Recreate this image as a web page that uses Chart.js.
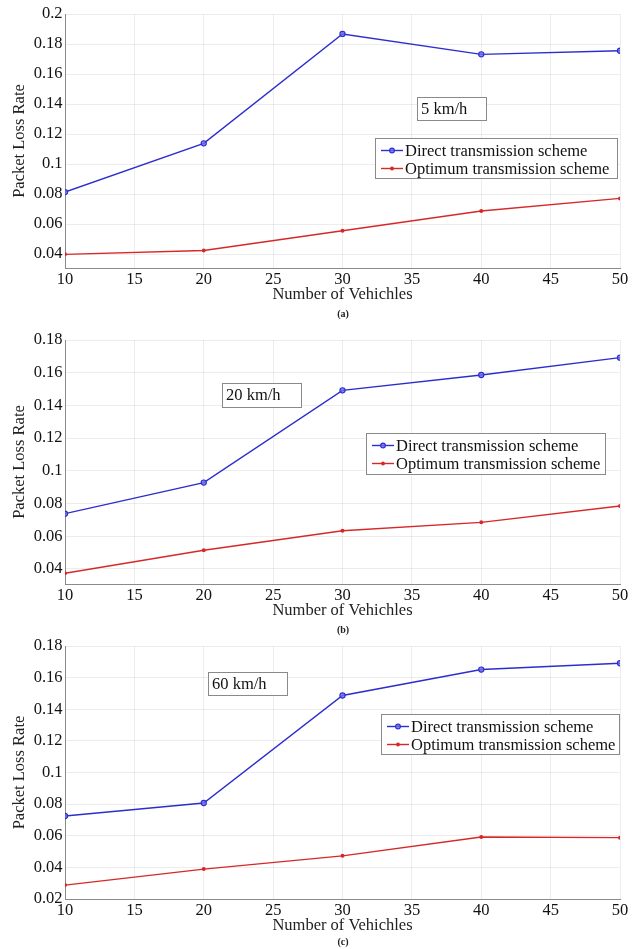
<!DOCTYPE html>
<html>
<head>
<meta charset="utf-8">
<script src="https://cdn.jsdelivr.net/npm/chart.js@4/dist/chart.umd.min.js"></script>
<style>
  body { margin: 0; background: #fff; }
  #wrap { position: relative; width: 644px; height: 949px; overflow: hidden; }
  canvas { position: absolute; left: 0; }
  .cap { position: absolute; width: 40px; text-align: center; font: bold 10px "Liberation Serif", serif; color: #222; }
</style>
</head>
<body>
<div id="wrap">
  <canvas id="chartA" width="644" height="320" style="top:0px"></canvas>
  <canvas id="chartB" width="644" height="310" style="top:320px"></canvas>
  <canvas id="chartC" width="644" height="319" style="top:630px"></canvas>
  <div class="cap" style="left:323px; top:308px">(a)</div>
  <div class="cap" style="left:323px; top:624px">(b)</div>
  <div class="cap" style="left:323px; top:936px">(c)</div>
</div>
<script>
// data
var vehicles = [10, 20, 30, 40, 50];
var xTicks = [10, 15, 20, 25, 30, 35, 40, 45, 50];

var directA  = [0.0813, 0.1138, 0.1867, 0.1731, 0.1755];
var optimumA = [0.0398, 0.0424, 0.0555, 0.0687, 0.0771];
var yTicksA  = [0.04, 0.06, 0.08, 0.1, 0.12, 0.14, 0.16, 0.18, 0.2];

var directB  = [0.0738, 0.0928, 0.1492, 0.1586, 0.1692];
var optimumB = [0.0374, 0.0514, 0.0634, 0.0685, 0.0785];
var yTicksB  = [0.04, 0.06, 0.08, 0.1, 0.12, 0.14, 0.16, 0.18];

var directC  = [0.0725, 0.0807, 0.1487, 0.1651, 0.1691];
var optimumC = [0.0288, 0.0389, 0.0473, 0.0592, 0.0588];
var yTicksC  = [0.02, 0.04, 0.06, 0.08, 0.1, 0.12, 0.14, 0.16, 0.18];

var seriesNames = ["Direct transmission scheme", "Optimum transmission scheme"];
var speeds = ["5 km/h", "20 km/h", "60 km/h"];

var FONT = '"Liberation Serif", "Times New Roman", serif';
var BLUE = "rgb(45,45,205)";
var RED = "rgb(215,40,40)";
var AXIS = "#8a8a8a";
var GRID = "rgba(0,0,0,0.07)";

function toXY(ys){
	var pts = [];
	for (var i = 0; i < vehicles.length; i++) {
		pts.push({x: vehicles[i], y: ys[i]});
	}
	return pts;
}

// legend box and speed label drawn on top of the plot
function overlay(p){
	return {
		id: "overlay",
		afterDraw: function(chart){
			var ctx = chart.ctx;
			ctx.save();
			ctx.font = "16.5px " + FONT;
			ctx.textBaseline = "middle";
			ctx.lineWidth = 1;

			// speed box
			var s = p.speedBox;
			ctx.fillStyle = "#fff";
			ctx.fillRect(s[0], s[1], s[2], s[3]);
			ctx.strokeStyle = AXIS;
			ctx.strokeRect(s[0] + 0.5, s[1] + 0.5, s[2], s[3]);
			ctx.fillStyle = "#111";
			ctx.fillText(p.speed, s[0] + 4, s[1] + s[3] / 2 + 1);

			// legend
			var b = p.legendBox;
			ctx.fillStyle = "#fff";
			ctx.fillRect(b[0], b[1], b[2], b[3]);
			ctx.strokeStyle = AXIS;
			ctx.strokeRect(b[0] + 0.5, b[1] + 0.5, b[2], b[3]);
			var cols = [BLUE, RED];
			for (var k = 0; k < 2; k++) {
				var yy = b[1] + 12.5 + k * 18;
				ctx.strokeStyle = cols[k];
				ctx.lineWidth = 1.4;
				ctx.beginPath();
				ctx.moveTo(b[0] + 6, yy);
				ctx.lineTo(b[0] + 28, yy);
				ctx.stroke();
				ctx.beginPath();
				if (k == 0) {
					ctx.arc(b[0] + 17, yy, 2.4, 0, Math.PI * 2);
					ctx.fillStyle = "rgba(110,110,235,0.8)";
					ctx.fill();
					ctx.lineWidth = 1.1;
					ctx.stroke();
				} else {
					ctx.arc(b[0] + 17, yy, 1.9, 0, Math.PI * 2);
					ctx.fillStyle = RED;
					ctx.fill();
				}
				ctx.fillStyle = "#111";
				ctx.fillText(seriesNames[k], b[0] + 30, yy + 1);
			}
			ctx.restore();
		}
	};
}

function makePanel(p){
	var canvas = document.getElementById(p.id);
	return new Chart(canvas, {
		type: "line",
		data: {
			datasets: [{
				label: seriesNames[0],
				data: toXY(p.direct),
				borderColor: BLUE,
				borderWidth: 1.4,
				pointRadius: 2.6,
				pointBorderWidth: 1.1,
				pointBackgroundColor: "rgba(110,110,235,0.8)",
				pointBorderColor: BLUE,
				tension: 0
			}, {
				label: seriesNames[1],
				data: toXY(p.optimum),
				borderColor: RED,
				borderWidth: 1.4,
				pointRadius: 2,
				pointBorderWidth: 0,
				pointBackgroundColor: RED,
				tension: 0
			}]
		},
		options: {
			responsive: false,
			animation: false,
			events: [],
			layout: { padding: { top: p.top, left: 0, right: 24, bottom: p.bottom } },
			plugins: { legend: { display: false }, tooltip: { enabled: false } },
			scales: {
				x: {
					type: "linear",
					min: 10, max: 50,
					afterBuildTicks: function(s){ s.ticks = xTicks.map(function(v){ return {value: v}; }); },
					afterFit: function(s){ s.height = 37; },
					grid: { color: GRID, drawTicks: false },
					border: { display: true, color: AXIS, width: 1 },
					ticks: { autoSkip: false, maxRotation: 0, padding: 1.5, color: "#111",
						font: { family: FONT, size: 16.5 } },
					title: { display: true, text: "Number of Vehichles", color: "#222",
						padding: { top: 0, bottom: 0 }, font: { family: FONT, size: 16.5 } }
				},
				y: {
					min: p.ymin, max: p.ymax,
					afterBuildTicks: function(s){ s.ticks = p.yTicks.map(function(v){ return {value: v}; }); },
					afterFit: function(s){ s.width = 65; },
					grid: { color: GRID, drawTicks: false },
					border: { display: true, color: AXIS, width: 1 },
					ticks: { autoSkip: false, padding: 2.5, color: "#111",
						font: { family: FONT, size: 16.5 },
						callback: function(v){ return String(Math.round(v * 100) / 100); } },
					title: { display: true, text: "Packet Loss Rate", color: "#222",
						padding: { top: 10, bottom: 0 }, font: { family: FONT, size: 16.5 } }
				}
			}
		},
		plugins: [overlay(p)]
	});
}

// panel A: canvas top 0, plot 14..268
makePanel({ id: "chartA", direct: directA, optimum: optimumA, yTicks: yTicksA,
	ymin: 0.0307, ymax: 0.2, top: 14, bottom: 320 - 268 - 37,
	speed: speeds[0], speedBox: [417, 97, 69, 23], legendBox: [375, 138, 242, 40] });

// panel B: canvas top 320, plot 340..584
makePanel({ id: "chartB", direct: directB, optimum: optimumB, yTicks: yTicksB,
	ymin: 0.0308, ymax: 0.18, top: 20, bottom: 310 - 264 - 37,
	speed: speeds[1], speedBox: [222, 63, 79, 24], legendBox: [366, 113, 239, 41] });

// panel C: canvas top 630, plot 646..900
makePanel({ id: "chartC", direct: directC, optimum: optimumC, yTicks: yTicksC,
	ymin: 0.02, ymax: 0.18, top: 16, bottom: 319 - 270 - 36,
	speed: speeds[2], speedBox: [208, 42, 79, 23], legendBox: [381, 84, 238, 40] });
</script>
</body>
</html>
